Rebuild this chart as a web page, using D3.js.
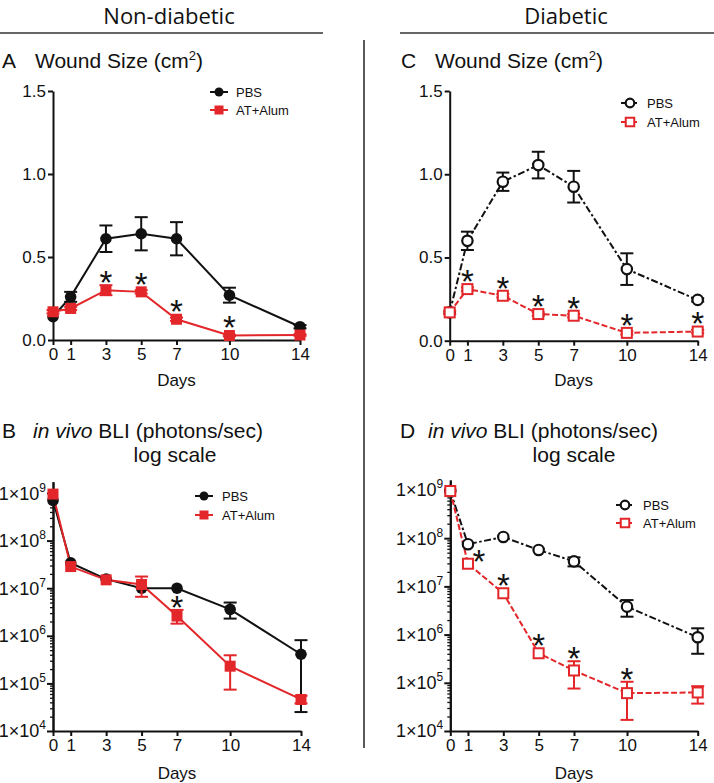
<!DOCTYPE html>
<html><head><meta charset="utf-8">
<script src="https://cdn.jsdelivr.net/npm/d3@7"></script>
<style>body{margin:0;background:#fff} svg{display:block}</style>
</head><body><svg id="c" width="714" height="783"></svg>
<script>
// ---------- data ----------
const days = [0, 1, 3, 5, 7, 10, 14];
const dayTicks = [0, 1, 3, 5, 7, 10, 14];
const seriesNames = ["PBS", "AT+Alum"];
const linTicks = [0, 0.5, 1.0, 1.5];
const logTicks = [1e4, 1e5, 1e6, 1e7, 1e8, 1e9];

// A: wound size, non-diabetic (cm2), mean and SEM
const woundND_PBS = [0.14, 0.26, 0.61, 0.64, 0.61, 0.27, 0.08];
const woundND_PBS_sem = [0, 0.03, 0.08, 0.10, 0.10, 0.045, 0.01];
const woundND_AT = [0.17, 0.19, 0.30, 0.29, 0.125, 0.027, 0.03];
const woundND_AT_sem = [0.01, 0.01, 0.03, 0.01, 0.01, 0.005, 0.005];
const woundND_stars = [3, 5, 7, 10];

// C: wound size, diabetic
const woundD_PBS = [0.17, 0.60, 0.955, 1.055, 0.925, 0.43, 0.245];
const woundD_PBS_sem = [0, 0.055, 0.055, 0.08, 0.095, 0.095, 0.01];
const woundD_AT = [0.17, 0.31, 0.27, 0.16, 0.15, 0.047, 0.055];
const woundD_AT_sem = [0.01, 0.01, 0.01, 0.01, 0.01, 0.01, 0.01];
const woundD_stars = [1, 3, 5, 7, 10, 14];

// B: BLI, non-diabetic (photons/sec), mean, upper and lower error ends
const bliND_PBS = [7e8, 3.4e7, 1.55e7, 1.0e7, 1.0e7, 3.6e6, 4.1e5];
const bliND_PBS_hi = [null, null, null, null, null, 5.0e6, 8.1e5];
const bliND_PBS_lo = [null, null, null, null, null, 2.3e6, 2.5e4];
const bliND_AT = [9.5e8, 2.85e7, 1.5e7, 1.2e7, 2.6e6, 2.3e5, 4.6e4];
const bliND_AT_hi = [null, null, null, 1.76e7, 3.5e6, 3.9e5, 5.5e4];
const bliND_AT_lo = [null, null, null, 6.6e6, 1.8e6, 7.4e4, 3.8e4];
const bliND_stars = [7];

// D: BLI, diabetic
const bliD_PBS = [9.5e8, 7.5e7, 1.06e8, 5.7e7, 3.3e7, 3.8e6, 8.8e5];
const bliD_PBS_hi = [null, null, null, null, 4.0e7, 5.2e6, 1.35e6];
const bliD_PBS_lo = [null, null, null, null, 2.6e7, 2.35e6, 4.0e5];
const bliD_AT = [9.5e8, 2.95e7, 7.2e6, 4.1e5, 1.8e5, 6.1e4, 6.3e4];
const bliD_AT_hi = [null, null, null, null, 2.8e5, 1.05e5, 8.5e4];
const bliD_AT_lo = [null, null, null, null, 7.6e4, 1.7e4, 3.7e4];
const bliD_stars = [1, 3, 5, 7, 10];

// ---------- styles ----------
const FONT = "'Liberation Sans', Arial, Helvetica, sans-serif";
const HFONT = "'Open Sans', 'Noto Sans', sans-serif";
const RED = "#e3262a";
const BLACK = "#111";
const svg = d3.select("#c");

function semSeries(vals, sem) {
  return days.map((d, i) => ({d, v: vals[i], hi: sem[i] ? vals[i] + sem[i] : null, lo: sem[i] ? vals[i] - sem[i] : null}));
}
function rangeSeries(vals, hi, lo) {
  return days.map((d, i) => ({d, v: vals[i], hi: hi[i], lo: lo[i]}));
}

const panels = [
  {type: "linear", xr: [53, 300], yr: [340, 91], domain: [0, 1.5], open: false,
   series: [semSeries(woundND_PBS, woundND_PBS_sem), semSeries(woundND_AT, woundND_AT_sem)],
   stars: woundND_stars, legend: {cx: 219, ys: [92, 110], tx: 236}, daysY: 380},
  {type: "linear", xr: [449.7, 697.7], yr: [340.7, 91], domain: [0, 1.5], open: true,
   series: [semSeries(woundD_PBS, woundD_PBS_sem), semSeries(woundD_AT, woundD_AT_sem)],
   stars: woundD_stars, legend: {cx: 630, ys: [103, 122], tx: 647}, daysY: 380},
  {type: "log", xr: [53, 301], yr: [731, 481.7], domain: [1e4, 1.73e9], open: false,
   series: [rangeSeries(bliND_PBS, bliND_PBS_hi, bliND_PBS_lo), rangeSeries(bliND_AT, bliND_AT_hi, bliND_AT_lo)],
   stars: bliND_stars, legend: {cx: 204, ys: [496, 515], tx: 222}, daysY: 773},
  {type: "log", xr: [450.3, 697.7], yr: [731, 480], domain: [1e4, 1.61e9], open: true,
   series: [rangeSeries(bliD_PBS, bliD_PBS_hi, bliD_PBS_lo), rangeSeries(bliD_AT, bliD_AT_hi, bliD_AT_lo)],
   stars: bliD_stars, starShiftFirst: true, legend: {cx: 625, ys: [505, 523], tx: 643}, daysY: 773}
];

function styleAxis(g, fs) {
  g.attr("font-family", FONT).attr("font-size", fs);
  g.select(".domain").attr("stroke", BLACK).attr("stroke-width", 2);
  g.selectAll(".tick line").attr("stroke", BLACK).attr("stroke-width", 2);
  g.selectAll(".tick text").attr("fill", BLACK);
}

function marker(g, cx, cy, si, open, small) {
  const color = si === 0 ? BLACK : RED;
  if (si === 0) {
    g.append("circle").attr("cx", cx).attr("cy", cy).attr("r", open ? (small ? 4.3 : 5.2) : (small ? 4.5 : 5.8))
      .attr("fill", open ? "#fff" : color).attr("stroke", color).attr("stroke-width", open ? 2.2 : 0);
  } else {
    const s = open ? (small ? 8.5 : 10) : (small ? 9 : 11);
    g.append("rect").attr("x", cx - s / 2).attr("y", cy - s / 2).attr("width", s).attr("height", s)
      .attr("fill", open ? "#fff" : color).attr("stroke", color).attr("stroke-width", open ? 2 : 0);
  }
}

function dashFor(si, open) {
  if (!open) return null;
  return si === 0 ? "7,2.5,2.5,2.5" : "6,2.5";
}

panels.forEach(p => {
  const x = d3.scaleLinear().domain([0, 14]).range(p.xr);
  const y = p.type === "log" ? d3.scaleLog().domain(p.domain).range(p.yr)
                             : d3.scaleLinear().domain(p.domain).range(p.yr);
  const g = svg.append("g");

  // x axis
  const gx = g.append("g").attr("transform", `translate(0,${p.yr[0]})`)
    .call(d3.axisBottom(x).tickValues(dayTicks).tickSize(5).tickSizeOuter(0).tickPadding(3).tickFormat(d3.format("d")));
  styleAxis(gx, 17);

  // y axis
  if (p.type === "linear") {
    const gy = g.append("g").attr("transform", `translate(${p.xr[0]},0)`)
      .call(d3.axisLeft(y).tickValues(linTicks).tickSize(5).tickSizeOuter(0).tickPadding(2).tickFormat(d3.format(".1f")));
    styleAxis(gy, 17);
  } else {
    const minor = [];
    for (let e = 4; e < 9; e++) for (let m = 2; m <= 9; m++) minor.push(m * Math.pow(10, e));
    const gm = g.append("g").attr("transform", `translate(${p.xr[0]},0)`)
      .call(d3.axisLeft(y).tickValues(minor).tickSize(3).tickSizeOuter(0).tickFormat(() => ""));
    styleAxis(gm, 10);
    gm.selectAll(".tick line").attr("stroke-width", 1.3);
    const gy = g.append("g").attr("transform", `translate(${p.xr[0]},0)`)
      .call(d3.axisLeft(y).tickValues(logTicks).tickSize(6).tickSizeOuter(0).tickFormat(() => ""));
    styleAxis(gy, 18);
    logTicks.forEach(v => {
      const t = g.append("text").attr("x", p.xr[0] - 7).attr("y", y(v)).attr("dy", "0.36em")
        .attr("text-anchor", "end").attr("font-family", FONT).attr("font-size", 18).attr("fill", BLACK);
      t.append("tspan").text("1×10");
      t.append("tspan").attr("font-size", 12).attr("dy", -8).text(String(Math.round(Math.log10(v))));
    });
  }

  // x label
  g.append("text").attr("x", (p.xr[0] + p.xr[1]) / 2).attr("y", p.daysY).attr("dy", "0.35em")
    .attr("text-anchor", "middle").attr("font-family", FONT).attr("font-size", 17).attr("fill", BLACK).text("Days");

  // series
  p.series.forEach((s, si) => {
    const color = si === 0 ? BLACK : RED;
    const line = d3.line().x(d => x(d.d)).y(d => y(d.v));
    g.append("path").datum(s).attr("d", line).attr("fill", "none").attr("stroke", color)
      .attr("stroke-width", 2).attr("stroke-dasharray", dashFor(si, p.open));
  });
  p.series.forEach((s, si) => {
    const color = si === 0 ? BLACK : RED;
    const eg = g.append("g").attr("stroke", color).attr("stroke-width", 2);
    s.forEach(d => {
      const cx = x(d.d);
      [d.hi, d.lo].forEach(e => {
        if (e == null) return;
        eg.append("line").attr("x1", cx).attr("x2", cx).attr("y1", y(d.v)).attr("y2", y(e));
        eg.append("line").attr("x1", cx - 6.5).attr("x2", cx + 6.5).attr("y1", y(e)).attr("y2", y(e));
      });
    });
    s.forEach(d => marker(g, x(d.d), y(d.v), si, p.open, false));
  });

  // significance stars (above the AT+Alum series)
  const at = p.series[1];
  const SF = 33;
  p.stars.forEach((day, k) => {
    const d = at.find(o => o.d === day);
    let cy = y(d.v) - 15;
    if (d.hi != null) cy = Math.min(cy, y(d.hi) - 10);
    let cx = x(day);
    if (p.starShiftFirst && k === 0) { cx += 11; cy = y(d.v) - 10; }
    g.append("text").attr("x", cx).attr("y", cy + 0.57 * SF).attr("text-anchor", "middle")
      .attr("font-family", FONT).attr("font-size", SF).attr("fill", BLACK).text("*");
  });

  // legend
  seriesNames.forEach((name, si) => {
    const color = si === 0 ? BLACK : RED;
    const ly = p.legend.ys[si];
    g.append("line").attr("x1", p.legend.cx - 9).attr("x2", p.legend.cx + 9).attr("y1", ly).attr("y2", ly)
      .attr("stroke", color).attr("stroke-width", 2).attr("stroke-dasharray", p.open ? "4,2" : null);
    marker(g, p.legend.cx, ly, si, p.open, true);
    g.append("text").attr("x", p.legend.tx).attr("y", ly).attr("dy", "0.36em")
      .attr("font-family", FONT).attr("font-size", 13).attr("fill", BLACK).text(name);
  });
});

// ---------- headers and titles ----------
svg.append("text").attr("x", 169).attr("y", 24).attr("text-anchor", "middle")
  .attr("font-family", HFONT).attr("font-size", 22).attr("fill", "#111").text("Non-diabetic");
svg.append("text").attr("x", 566).attr("y", 24).attr("text-anchor", "middle")
  .attr("font-family", HFONT).attr("font-size", 22).attr("fill", "#111").text("Diabetic");
svg.append("line").attr("x1", 0).attr("x2", 323).attr("y1", 33).attr("y2", 33).attr("stroke", "#333").attr("stroke-width", 1.5);
svg.append("line").attr("x1", 400).attr("x2", 714).attr("y1", 33).attr("y2", 33).attr("stroke", "#333").attr("stroke-width", 1.5);
svg.append("line").attr("x1", 364).attr("x2", 364).attr("y1", 40).attr("y2", 748).attr("stroke", "#222").attr("stroke-width", 1.5);

function woundTitle(letter, lx, tx) {
  svg.append("text").attr("x", lx).attr("y", 68).attr("font-family", FONT).attr("font-size", 21).attr("fill", BLACK).text(letter);
  const t = svg.append("text").attr("x", tx).attr("y", 68).attr("font-family", FONT).attr("font-size", 21).attr("fill", BLACK);
  t.append("tspan").text("Wound Size (cm");
  t.append("tspan").attr("font-size", 13).attr("dy", -8).text("2");
  t.append("tspan").attr("dy", 8).text(")");
}
function bliTitle(letter, lx, tx, cx) {
  svg.append("text").attr("x", lx).attr("y", 438).attr("font-family", FONT).attr("font-size", 21).attr("fill", BLACK).text(letter);
  const t = svg.append("text").attr("x", tx).attr("y", 438).attr("font-family", FONT).attr("font-size", 21).attr("fill", BLACK);
  t.append("tspan").attr("font-style", "italic").text("in vivo");
  t.append("tspan").text(" BLI (photons/sec)");
  svg.append("text").attr("x", cx).attr("y", 462).attr("text-anchor", "middle").attr("font-family", FONT)
    .attr("font-size", 21).attr("fill", BLACK).text("log scale");
}
woundTitle("A", 2, 35);
woundTitle("C", 401, 435);
bliTitle("B", 2, 33, 175);
bliTitle("D", 400, 428, 574);
</script>
</body></html>
